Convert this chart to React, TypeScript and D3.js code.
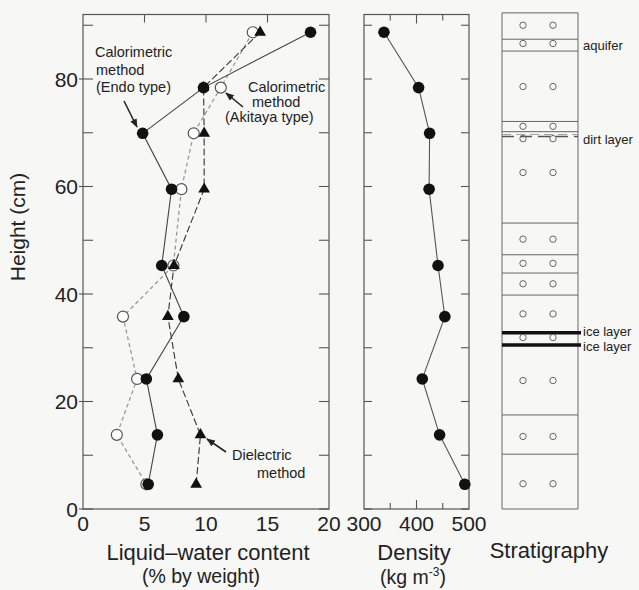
import React from "react";
import * as d3 from "d3";

// ---------- data ----------
const heights = [88.7, 78.4, 69.9, 59.5, 45.3, 35.8, 24.2, 13.8, 4.6];
const endoLWC = [18.5, 9.8, 4.85, 7.2, 6.4, 8.2, 5.15, 6.05, 5.3];
const akitayaLWC = [13.8, 11.2, 9.0, 8.0, 7.35, 3.25, 4.4, 2.75, 5.15];
const dielectricLWC = [14.4, 9.8, 9.85, 9.85, 7.4, 6.9, 7.75, 9.55, 9.2];
const density = [338, 404, 425, 424, 441, 454, 411, 444, 492];

const lwcTicks = [0, 5, 10, 15, 20];
const densityTicks = [300, 400, 500];
const densityMinorTicks = [350, 400, 450];
const heightTicks = [0, 20, 40, 60, 80];

const stratBoundaries = [92.3, 87.4, 85.2, 72.1, 70.2, 53.2, 47.3, 43.9, 39.8, 17.5, 10.2, 0];
const stratCircleRows = [90.0, 86.6, 78.6, 71.2, 68.9, 62.6, 50.2, 45.7, 41.9, 36.3, 31.9, 23.9, 13.5, 4.7];
const dirtLayer = [69.3];
const iceLayers = [32.8, 30.5];
const stratLabels = ["aquifer", "dirt layer", "ice layer", "ice layer"];
const stratLabelHeights = [86.3, 68.8, 33.1, 30.3];

// ---------- layout ----------
const W = 639;
const H = 590;
const FONT = "'Liberation Sans', Arial, Helvetica, sans-serif";
const INK = "#222";
const FRAME = "#555";

const y = d3.scaleLinear().domain([0, 92]).range([509, 14.5]);
const xL = d3.scaleLinear().domain([0, 20]).range([83, 329]);
const xD = d3.scaleLinear().domain([300, 500]).range([364, 469]);
const sx0 = 502;
const sx1 = 578;
const circleX = [523, 553];

const allTicks = d3.range(0, 100, 10);

function line(xs: number[], xsc: (v: number) => number) {
  const gen = d3
    .line<number>()
    .x((v) => xsc(v))
    .y((_, i) => y(heights[i]));
  return gen(xs) || "";
}

const tri = d3.symbol(d3.symbolTriangle, 60)() || "";

export default function App() {
  return (
    <svg
      width={W}
      height={H}
      style={{ position: "absolute", left: 0, top: 0 }}
      fontFamily={FONT}
    >
      <defs>
        <marker
          id="ah"
          viewBox="0 0 10 8"
          refX="9"
          refY="4"
          markerWidth="9"
          markerHeight="7"
          markerUnits="userSpaceOnUse"
          orient="auto"
        >
          <path d="M0,0 L10,4 L0,8 z" fill={INK} />
        </marker>
      </defs>
      <rect width={W} height={H} fill="#f7f8f6" />

      {/* ---------- Left panel: liquid water content ---------- */}
      <rect
        x={xL(0)}
        y={y(92)}
        width={xL(20) - xL(0)}
        height={y(0) - y(92)}
        fill="none"
        stroke={FRAME}
        strokeWidth={1.2}
      />
      {allTicks.map((t) => (
        <g key={"lt" + t} stroke={FRAME} strokeWidth={1.1}>
          <line
            x1={heightTicks.includes(t) ? xL(0) - 4 : xL(0)}
            x2={xL(0) + 10}
            y1={y(t)}
            y2={y(t)}
          />
          <line x1={xL(20)} x2={xL(20) - 10} y1={y(t)} y2={y(t)} />
        </g>
      ))}
      {[5, 10, 15].map((t) => (
        <line
          key={"ltt" + t}
          x1={xL(t)}
          x2={xL(t)}
          y1={y(92)}
          y2={y(92) + 8}
          stroke={FRAME}
          strokeWidth={1.1}
        />
      ))}
      {heightTicks.map((t) => (
        <text
          key={"ly" + t}
          x={xL(0) - 5}
          y={y(t) + 7.5}
          fontSize={21}
          textAnchor="end"
          fill={INK}
        >
          {t}
        </text>
      ))}
      {lwcTicks.map((t) => (
        <text
          key={"lx" + t}
          x={xL(t)}
          y={531}
          fontSize={21}
          textAnchor="middle"
          fill={INK}
        >
          {t}
        </text>
      ))}

      {/* Akitaya type: open circles, grey dashed */}
      <path
        d={line(akitayaLWC, xL)}
        fill="none"
        stroke="#999"
        strokeWidth={1.3}
        strokeDasharray="4,3"
      />
      {/* Dielectric: triangles, dark dashed */}
      <path
        d={line(dielectricLWC, xL)}
        fill="none"
        stroke="#333"
        strokeWidth={1.1}
        strokeDasharray="7,3"
      />
      {/* Endo type: filled circles, solid */}
      <path d={line(endoLWC, xL)} fill="none" stroke="#444" strokeWidth={1.1} />

      {akitayaLWC.map((v, i) => (
        <circle
          key={"ak" + i}
          cx={xL(v)}
          cy={y(heights[i])}
          r={5.5}
          fill="#fff"
          stroke="#555"
          strokeWidth={1.2}
        />
      ))}
      {dielectricLWC.map((v, i) => (
        <path
          key={"di" + i}
          d={tri}
          transform={`translate(${xL(v)},${y(heights[i])})`}
          fill="#111"
        />
      ))}
      {endoLWC.map((v, i) => (
        <circle
          key={"en" + i}
          cx={xL(v)}
          cy={y(heights[i])}
          r={5.8}
          fill="#111"
        />
      ))}

      {/* annotations */}
      <g fontSize={14.5} fill={INK}>
        <text x={95} y={57}>Calorimetric</text>
        <text x={96} y={75}>method</text>
        <text x={96} y={92}>(Endo type)</text>
        <text x={248} y={91.5}>Calorimetric</text>
        <text x={252} y={106.5}>method</text>
        <text x={225} y={122}>(Akitaya type)</text>
        <text x={232} y={460}>Dielectric</text>
        <text x={257} y={478}>method</text>
      </g>
      <g stroke={INK} strokeWidth={1.6}>
        <line x1={124} y1={101} x2={137} y2={127} markerEnd="url(#ah)" />
        <line x1={243} y1={107} x2={226} y2={93} markerEnd="url(#ah)" />
        <line x1={226} y1={452} x2={207} y2={439} markerEnd="url(#ah)" />
      </g>

      {/* ---------- Density panel ---------- */}
      <rect
        x={xD(300)}
        y={y(92)}
        width={xD(500) - xD(300)}
        height={y(0) - y(92)}
        fill="none"
        stroke={FRAME}
        strokeWidth={1.2}
      />
      {allTicks.map((t) => (
        <g key={"dt" + t} stroke={FRAME} strokeWidth={1.1}>
          <line x1={xD(300)} x2={xD(300) + 8} y1={y(t)} y2={y(t)} />
          <line x1={xD(500)} x2={xD(500) - 8} y1={y(t)} y2={y(t)} />
        </g>
      ))}
      {densityMinorTicks.map((t) => (
        <g key={"dx" + t} stroke={FRAME} strokeWidth={1.1}>
          <line x1={xD(t)} x2={xD(t)} y1={y(0)} y2={y(0) - (t === 400 ? 9 : 6)} />
          <line x1={xD(t)} x2={xD(t)} y1={y(92)} y2={y(92) + (t === 400 ? 9 : 6)} />
        </g>
      ))}
      {densityTicks.map((t) => (
        <text
          key={"dl" + t}
          x={xD(t)}
          y={531}
          fontSize={21}
          textAnchor="middle"
          fill={INK}
        >
          {t}
        </text>
      ))}
      <path d={line(density, xD)} fill="none" stroke="#555" strokeWidth={1.1} />
      {density.map((v, i) => (
        <circle
          key={"de" + i}
          cx={xD(v)}
          cy={y(heights[i])}
          r={5.8}
          fill="#111"
        />
      ))}

      {/* ---------- Stratigraphy panel ---------- */}
      {stratBoundaries.map((b, i) => (
        <line
          key={"sb" + i}
          x1={sx0}
          x2={sx1}
          y1={y(b)}
          y2={y(b)}
          stroke="#666"
          strokeWidth={1}
        />
      ))}
      <line x1={sx0} x2={sx0} y1={y(92.3)} y2={y(0)} stroke="#666" strokeWidth={1} />
      <line x1={sx1} x2={sx1} y1={y(92.3)} y2={y(0)} stroke="#666" strokeWidth={1} />
      {dirtLayer.map((d, i) => (
        <g key={"dl" + i}>
          <line
            x1={sx0}
            x2={sx1}
            y1={y(d) - 2}
            y2={y(d) - 2}
            stroke="#999"
            strokeWidth={0.9}
            strokeDasharray="9,5"
          />
          <line
            x1={sx0}
            x2={sx1}
            y1={y(d)}
            y2={y(d)}
            stroke="#555"
            strokeWidth={1.3}
            strokeDasharray="12,6"
          />
        </g>
      ))}
      {iceLayers.map((d, i) => (
        <line
          key={"ice" + i}
          x1={sx0}
          x2={sx1 + 3}
          y1={y(d)}
          y2={y(d)}
          stroke="#111"
          strokeWidth={3.5}
        />
      ))}
      {stratCircleRows.map((h, i) =>
        circleX.map((cx, j) => (
          <circle
            key={"sc" + i + "_" + j}
            cx={cx}
            cy={y(h)}
            r={3.2}
            fill="none"
            stroke="#666"
            strokeWidth={1}
          />
        ))
      )}
      {stratLabels.map((s, i) => (
        <text
          key={"slab" + i}
          x={583}
          y={y(stratLabelHeights[i]) + 4.5}
          fontSize={13}
          fill={INK}
        >
          {s}
        </text>
      ))}

      {/* ---------- axis titles ---------- */}
      <text
        transform={`translate(25,227) rotate(-90)`}
        fontSize={21}
        textAnchor="middle"
        fill={INK}
      >
        Height (cm)
      </text>
      <text x={208} y={560} fontSize={22} textAnchor="middle" fill={INK}>
        Liquid–water content
      </text>
      <text x={201} y={583} fontSize={19.5} textAnchor="middle" fill={INK}>
        {"(% by weight)"}
      </text>
      <text x={414} y={550} fontSize={22} textAnchor="middle" fill={INK}>
        <tspan x={414} dy={10}>Density</tspan>
      </text>
      <text x={413} y={584} fontSize={19.5} textAnchor="middle" fill={INK}>
        <tspan>{"(kg m"}</tspan>
        <tspan fontSize={12} dy={-8}>{"-3"}</tspan>
        <tspan dy={8}>{")"}</tspan>
      </text>
      <text x={549} y={558} fontSize={22} textAnchor="middle" fill={INK}>
        Stratigraphy
      </text>
    </svg>
  );
}
